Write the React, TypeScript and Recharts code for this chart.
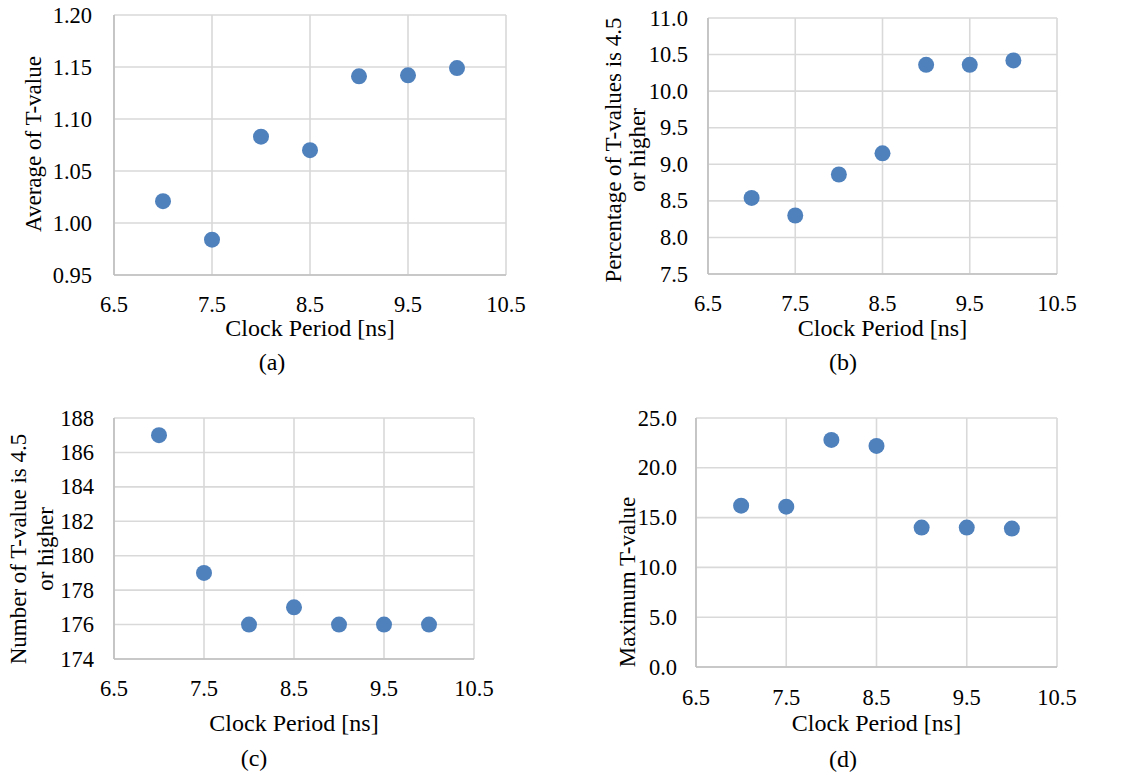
import React from "react";
import { ScatterChart, Scatter, XAxis, YAxis, CartesianGrid } from "recharts";

// ---------------------------------------------------------------------------
// Data
// ---------------------------------------------------------------------------

const clockPeriod = [7.0, 7.5, 8.0, 8.5, 9.0, 9.5, 10.0];
const averageT = [1.021, 0.984, 1.083, 1.07, 1.141, 1.142, 1.149];
const percentAbove = [8.54, 8.3, 8.86, 9.15, 10.36, 10.36, 10.42];
const countAbove = [187, 179, 176, 177, 176, 176, 176];
const maximumT = [16.2, 16.1, 22.8, 22.2, 14.0, 14.0, 13.9];

const xTicks = [6.5, 7.5, 8.5, 9.5, 10.5];
const avgTicks = [0.95, 1.0, 1.05, 1.1, 1.15, 1.2];
const pctTicks = [7.5, 8.0, 8.5, 9.0, 9.5, 10.0, 10.5, 11.0];
const countTicks = [174, 176, 178, 180, 182, 184, 186, 188];
const maxTicks = [0, 5, 10, 15, 20, 25];

const FONT = "Liberation Serif, DejaVu Serif, serif";
const DOT = "#4f81bd";
const GRID = "#d9d9d9";
const AXIS = "#bfbfbf";

// ---------------------------------------------------------------------------
// Panel
// ---------------------------------------------------------------------------

interface PanelProps {
  left: number;
  top: number;
  width: number;
  height: number;
  plot: { l: number; r: number; t: number; b: number };
  values: number[];
  yTicks: number[];
  digits: number;
  yGap: number;
  yTitle: string[];
  yTitleX: number[];
  yTitleY: number;
  xTickY: number;
  xTitleY: number;
  caption: string;
  captionX: number;
  captionY: number;
}

function Panel(p: PanelProps) {
  const data = clockPeriod.map((x, i) => ({ x, y: p.values[i] }));
  const midX = (p.plot.l + p.plot.r) / 2;
  const txt = (size: number) => ({ fontFamily: FONT, fontSize: size, fill: "#000" });

  return (
    <div style={{ position: "absolute", left: p.left, top: p.top, width: p.width, height: p.height }}>
      <ScatterChart
        width={p.width}
        height={p.height}
        style={{ fontFamily: FONT }}
        margin={{ top: p.plot.t, right: p.width - p.plot.r, bottom: p.height - p.plot.b - 30, left: 0 }}
      >
        <CartesianGrid stroke={GRID} strokeWidth={1.6} />
        <XAxis
          type="number"
          dataKey="x"
          domain={[6.5, 10.5]}
          ticks={xTicks}
          height={30}
          stroke={AXIS}
          strokeWidth={1.6}
          tickLine={false}
          tick={({ x, payload }: { x: number; payload: { value: number } }) => (
            <text x={x} y={p.xTickY} textAnchor="middle" dominantBaseline="central" style={txt(22.5)}>
              {payload.value.toFixed(1)}
            </text>
          )}
          label={{
            content: () => (
              <text x={midX} y={p.xTitleY} textAnchor="middle" dominantBaseline="central" style={txt(24)}>
                Clock Period [ns]
              </text>
            ),
          }}
        />
        <YAxis
          type="number"
          dataKey="y"
          domain={[p.yTicks[0], p.yTicks[p.yTicks.length - 1]]}
          ticks={p.yTicks}
          width={p.plot.l}
          stroke={AXIS}
          strokeWidth={1.6}
          tickLine={false}
          tick={({ y, payload }: { y: number; payload: { value: number } }) => (
            <text x={p.plot.l - p.yGap} y={y} textAnchor="end" dominantBaseline="central" style={txt(22.5)}>
              {payload.value.toFixed(p.digits)}
            </text>
          )}
          label={{
            content: () => (
              <g>
                {p.yTitle.map((line, i) => (
                  <text
                    key={line}
                    x={p.yTitleX[i]}
                    y={p.yTitleY}
                    transform={`rotate(-90 ${p.yTitleX[i]} ${p.yTitleY})`}
                    textAnchor="middle"
                    dominantBaseline="central"
                    style={txt(23)}
                  >
                    {line}
                  </text>
                ))}
              </g>
            ),
          }}
        />
        <Scatter
          data={data}
          isAnimationActive={false}
          shape={(s: { cx?: number; cy?: number }) => <circle cx={s.cx} cy={s.cy} r={8} fill={DOT} />}
        />
      </ScatterChart>
      <div
        style={{
          position: "absolute",
          left: p.captionX - 40,
          top: p.captionY - 15,
          width: 80,
          textAlign: "center",
          fontFamily: FONT,
          fontSize: 24,
          lineHeight: "30px",
        }}
      >
        {p.caption}
      </div>
    </div>
  );
}

// ---------------------------------------------------------------------------
// App
// ---------------------------------------------------------------------------

export default function App() {
  return (
    <div style={{ position: "absolute", left: 0, top: 0, width: 1137, height: 775, background: "#fff" }}>
      <Panel
        left={0}
        top={0}
        width={560}
        height={390}
        plot={{ l: 114, r: 506, t: 15, b: 275 }}
        values={averageT}
        yTicks={avgTicks}
        digits={2}
        yGap={22}
        yTitle={["Average of T-value"]}
        yTitleX={[33]}
        yTitleY={144}
        xTickY={304}
        xTitleY={328}
        caption="(a)"
        captionX={272}
        captionY={362}
      />
      <Panel
        left={560}
        top={0}
        width={577}
        height={390}
        plot={{ l: 148, r: 497, t: 18, b: 274 }}
        values={percentAbove}
        yTicks={pctTicks}
        digits={1}
        yGap={20}
        yTitle={["Percentage of T-values is 4.5", "or higher"]}
        yTitleX={[53, 77]}
        yTitleY={150}
        xTickY={303}
        xTitleY={328}
        caption="(b)"
        captionX={283}
        captionY={362}
      />
      <Panel
        left={0}
        top={390}
        width={560}
        height={385}
        plot={{ l: 114, r: 474, t: 28, b: 269 }}
        values={countAbove}
        yTicks={countTicks}
        digits={0}
        yGap={20}
        yTitle={["Number of T-value is 4.5", "or higher"]}
        yTitleX={[18, 45]}
        yTitleY={159}
        xTickY={298}
        xTitleY={333}
        caption="(c)"
        captionX={254}
        captionY={368}
      />
      <Panel
        left={560}
        top={390}
        width={577}
        height={385}
        plot={{ l: 136, r: 497, t: 28, b: 277 }}
        values={maximumT}
        yTicks={maxTicks}
        digits={1}
        yGap={19}
        yTitle={["Maximum T-value"]}
        yTitleX={[67]}
        yTitleY={192}
        xTickY={307}
        xTitleY={333}
        caption="(d)"
        captionX={283}
        captionY={369}
      />
    </div>
  );
}
